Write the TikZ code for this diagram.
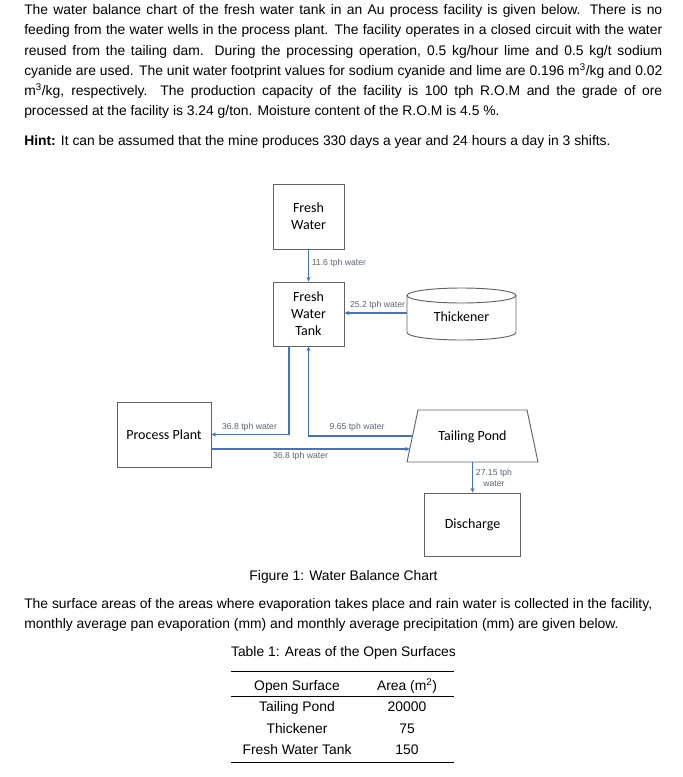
\documentclass[tikz,border=0pt]{standalone}
\usepackage{fontspec}
\setmainfont{Liberation Sans}
\newfontfamily\calib{Carlito}
\usetikzlibrary{arrows.meta,calc}
\definecolor{flow}{HTML}{4472C4}
\definecolor{lbl}{HTML}{5B6374}
\definecolor{edge}{HTML}{626262}
\begin{document}
\begin{tikzpicture}[x=0.75pt,y=-0.75pt,
  body/.style={inner sep=0pt, anchor=base west, font=\fontsize{10.4}{12}\selectfont},
  ctext/.style={inner sep=0pt, anchor=base, font=\fontsize{10.4}{12}\selectfont},
  box/.style={draw=edge, line width=0.7pt, fill=white, align=center, inner sep=0pt, font=\calib\fontsize{10.5}{12.75}\selectfont},
  plain/.style={align=center, inner sep=0pt, font=\calib\fontsize{10.5}{12.75}\selectfont},
  shapeline/.style={draw=edge, line width=0.7pt},
  flowline/.style={draw=flow, line width=0.9pt},
  arr/.style={flowline, -{Stealth[length=3.5pt,width=3.2pt]}},
  lab/.style={text=lbl, font=\fontsize{6.5}{8}\selectfont, inner sep=0pt, align=center},
  trule/.style={line width=0.75pt}]
\useasboundingbox (0,0) rectangle (682,777);

% --- problem text ---
\node[body] (l1) at (24,14.5) {\makebox[478.5pt][s]{The water balance chart of the fresh water tank in an Au process facility is given below. There is no}};
\node[body] (l2) at (24,34.8) {\makebox[478.5pt][s]{feeding from the water wells in the process plant. The facility operates in a closed circuit with the water}};
\node[body] (l3) at (24,55.1) {\makebox[478.5pt][s]{reused from the tailing dam. During the processing operation, 0.5 kg/hour lime and 0.5 kg/t sodium}};
\node[body] (l4) at (24,75.4) {\makebox[478.5pt][s]{cyanide are used. The unit water footprint values for sodium cyanide and lime are 0.196 m\textsuperscript{3}/kg and 0.02}};
\node[body] (l5) at (24,95.7) {\makebox[478.5pt][s]{m\textsuperscript{3}/kg, respectively. The production capacity of the facility is 100 tph R.O.M and the grade of ore}};
\node[body] (l6) at (24,116) {processed at the facility is 3.24 g/ton. Moisture content of the R.O.M is 4.5 \%.};
\node[body] (hint) at (24,145.5) {\textbf{Hint:} It can be assumed that the mine produces 330 days a year and 24 hours a day in 3 shifts.};

% --- diagram ---
\node[box, minimum width=53.25pt, minimum height=48.75pt] (fw) at (308.5,216.5) {Fresh\\Water};
\node[box, minimum width=53.25pt, minimum height=48pt] (tank) at (308.5,314) {Fresh\\Water\\Tank};
\node[box, minimum width=70.5pt, minimum height=48.75pt] (pp) at (164,434.5) {Process Plant};
\node[box, minimum width=72pt, minimum height=47.25pt] (disc) at (472.5,524.5) {Discharge};

% thickener (cylinder)
\draw[shapeline, fill=white] (407,295.5) -- (407,332.5) arc[start angle=180, end angle=360, x radius=54.5, y radius=-7.5] -- (516,295.5);
\draw[shapeline] (461.5,295.5) ellipse[x radius=54.5, y radius=7.5];
\node[plain, minimum width=81.75pt, minimum height=27pt] (th) at (461.5,313) {\smash{\raisebox{-6.6pt}{Thickener}}};

% tailing pond (trapezoid)
\coordinate (tpTL) at (418,410);
\coordinate (tpTR) at (527,410);
\coordinate (tpBR) at (538,462);
\coordinate (tpBL) at (407,462);
\draw[shapeline] (tpTL) -- (tpTR) -- (tpBR) -- (tpBL) -- cycle;
\node[plain, minimum width=60pt, minimum height=39pt, text depth=0pt] (tp) at (472.5,436) {Tailing Pond};

% flows
\draw[arr] (fw.south) -- (tank.north);
\node[lab, anchor=west] (t1) at (311.5,263) {11.6 tph water};

\draw[arr] (th.west) -- (th.west -| tank.east);
\node[lab] (t2) at (377.5,305.5) {25.2 tph water};

\draw[arr] ($(tank.south)+(-19.5,0)$) |- (pp.east);
\node[lab] (t3) at (249.5,427.5) {36.8 tph water};

\draw[arr] ($(tpTL)!0.5!(tpBL)$) -| (tank.south);
\node[lab] (t4) at (357,427.5) {9.65 tph water};

\draw[arr] ($(pp.east)+(0,14.5)$) -- ($(tpTL)!0.75!(tpBL)$);
\node[lab] (t5) at (300.5,456.5) {36.8 tph water};

\draw[arr] (tp.south) -- (disc.north);
\node[lab] (t6) at (494,478) {27.15 tph\\water};

% --- following text ---
\node[ctext] (cap) at (343.5,580.5) {Figure 1: Water Balance Chart};
\node[body] (s1) at (24,608.5) {The surface areas of the areas where evaporation takes place and rain water is collected in the facility,};
\node[body] (s2) at (24,628.5) {monthly average pan evaporation (mm) and monthly average precipitation (mm) are given below.};
\node[ctext] (tcap) at (343.5,656.5) {Table 1: Areas of the Open Surfaces};

\draw[trule] (231,671) -- (454,671);
\draw[trule] (231,696) -- (454,696);
\draw[trule] (231,762) -- (454,762);
\node[ctext] (h1) at (297,690.5) {Open Surface};
\node[ctext] (h2) at (407,690.5) {Area (m\textsuperscript{2})};
\node[ctext] (r1a) at (297,711.5) {Tailing Pond};
\node[ctext] (r1b) at (407,711.5) {20000};
\node[ctext] (r2a) at (297,733.5) {Thickener};
\node[ctext] (r2b) at (407,733.5) {75};
\node[ctext] (r3a) at (297,754.5) {Fresh Water Tank};
\node[ctext] (r3b) at (407,754.5) {150};
\end{tikzpicture}
\end{document}
